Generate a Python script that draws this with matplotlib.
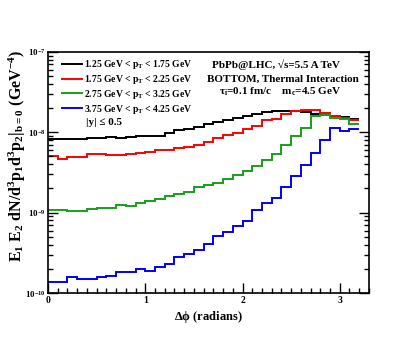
import numpy as np
import matplotlib
matplotlib.use("Agg")
import matplotlib.pyplot as plt
from matplotlib.ticker import LogLocator, MultipleLocator, NullFormatter, FixedLocator

plt.rcParams['font.family'] = ['Liberation Serif', 'DejaVu Serif']
plt.rcParams['font.weight'] = 'bold'
plt.rcParams['mathtext.fontset'] = 'custom'
plt.rcParams['mathtext.rm'] = 'Liberation Serif:bold'
plt.rcParams['mathtext.it'] = 'Liberation Serif:bold'
plt.rcParams['mathtext.bf'] = 'Liberation Serif:bold'
plt.rcParams['mathtext.default'] = 'rm'

# bin edges in delta phi (radians)
bin_edges = [round(0.1 * i, 1) for i in range(33)]

labels = [
    r"1.25 GeV < p$_{\rm T}$ < 1.75 GeV",
    r"1.75 GeV < p$_{\rm T}$ < 2.25 GeV",
    r"2.75 GeV < p$_{\rm T}$ < 3.25 GeV",
    r"3.75 GeV < p$_{\rm T}$ < 4.25 GeV",
]
colors = ["#000000", "#ff0000", "#18a018", "#0000ff"]

black = [8.29e-9, 8.29e-9, 8.29e-9, 8.34e-9, 8.49e-9, 8.49e-9, 8.66e-9, 8.41e-9,
         8.66e-9, 8.91e-9, 8.99e-9, 9.09e-9, 9.80e-9, 1.06e-8, 1.11e-8, 1.16e-8,
         1.25e-8, 1.35e-8, 1.41e-8, 1.51e-8, 1.60e-8, 1.71e-8, 1.79e-8, 1.85e-8,
         1.86e-8, 1.85e-8, 1.80e-8, 1.71e-8, 1.63e-8, 1.58e-8, 1.53e-8, 1.47e-8]
red = [5.08e-9, 4.69e-9, 4.91e-9, 4.91e-9, 5.42e-9, 5.42e-9, 5.16e-9, 5.26e-9,
       5.42e-9, 5.51e-9, 5.62e-9, 5.96e-9, 6.04e-9, 6.37e-9, 6.55e-9, 6.88e-9,
       7.56e-9, 8.49e-9, 9.17e-9, 9.91e-9, 1.11e-8, 1.21e-8, 1.41e-8, 1.48e-8,
       1.68e-8, 1.83e-8, 1.88e-8, 1.90e-8, 1.76e-8, 1.61e-8, 1.50e-8, 1.41e-8]
green = [1.07e-9, 1.07e-9, 1.06e-9, 1.04e-9, 1.11e-9, 1.13e-9, 1.15e-9, 1.25e-9,
         1.22e-9, 1.32e-9, 1.40e-9, 1.47e-9, 1.60e-9, 1.71e-9, 1.79e-9, 2.11e-9,
         2.19e-9, 2.35e-9, 2.61e-9, 2.96e-9, 3.28e-9, 3.79e-9, 4.56e-9, 5.42e-9,
         6.94e-9, 8.91e-9, 1.14e-8, 1.58e-8, 1.62e-8, 1.51e-8, 1.45e-8, 1.26e-8]
blue = [1.38e-10, 1.38e-10, 1.58e-10, 1.51e-10, 1.48e-10, 1.58e-10, 1.62e-10, 1.85e-10,
        1.81e-10, 1.98e-10, 1.90e-10, 2.14e-10, 2.28e-10, 2.82e-10, 3.10e-10, 3.45e-10,
        4.06e-10, 5.11e-10, 5.67e-10, 6.88e-10, 7.94e-10, 1.07e-9, 1.32e-9, 1.51e-9,
        2.11e-9, 2.82e-9, 3.87e-9, 5.51e-9, 8.11e-9, 1.12e-8, 1.04e-8, 1.10e-8]
series = [black, red, green, blue]

x_ticks = [0, 1, 2, 3]
y_ticks = [1e-10, 1e-9, 1e-8, 1e-7]
y_ticklabels = [r"10$^{-10}$", r"10$^{-9}$", r"10$^{-8}$", r"10$^{-7}$"]

fig = plt.figure(figsize=(4.15, 3.46), dpi=100)
ax = fig.add_axes([0.1157, 0.153, 0.7733, 0.697])

for vals, c, lab in zip(series, colors, labels):
    ax.stairs(vals, bin_edges, color=c, lw=1.4, label=lab, baseline=None)

ax.set_yscale('log')
ax.set_xlim(0, 3.3)
ax.set_ylim(1e-10, 1e-7)

ax.xaxis.set_major_locator(FixedLocator(x_ticks))
ax.xaxis.set_minor_locator(MultipleLocator(0.1))
ax.set_xticklabels([str(t) for t in x_ticks], fontsize=7, fontweight='bold')
ax.yaxis.set_major_locator(FixedLocator(y_ticks))
ax.set_yticklabels(y_ticklabels, fontsize=6.5)
ax.yaxis.set_minor_locator(LogLocator(base=10, subs=np.arange(2, 10)))
ax.yaxis.set_minor_formatter(NullFormatter())
ax.tick_params(which='both', direction='in', top=False, right=True, width=1.0, colors='black')
ax.tick_params(which='major', length=7, pad=2)
ax.tick_params(which='minor', length=3.5)
for sp in ax.spines.values():
    sp.set_linewidth(1.2)

ax.set_xlabel(r"$\Delta\phi$ (radians)", fontsize=9, fontweight='bold', labelpad=3)
ax.set_ylabel(r"E$_1$ E$_2$ dN/d$^3$p$_1$d$^3$p$_2$|$_{\rm b=0}$ (GeV$^{-4}$)",
              fontsize=11.5, fontweight='bold', loc='top')
ax.yaxis.set_label_coords(-0.062, 1.01)

leg = ax.legend(loc='upper left', bbox_to_anchor=(0.035, 0.985), frameon=False,
                prop={'family': 'Liberation Serif', 'weight': 'bold', 'size': 6.9},
                handlelength=2.1, handletextpad=0.2, labelspacing=0.18,
                borderaxespad=0.0, borderpad=0.3)

ax.text(0.118, 0.708, "|y| \u2264 0.5", transform=ax.transAxes, fontsize=8,
        fontweight='bold', ha='left', va='center')

ax.text(0.710, 0.946, "PbPb@LHC, \u221As=5.5 A TeV", transform=ax.transAxes,
        fontsize=8, fontweight='bold', ha='center', va='center')
ax.text(0.731, 0.888, "BOTTOM, Thermal Interaction", transform=ax.transAxes,
        fontsize=8, fontweight='bold', ha='center', va='center')
ax.text(0.725, 0.834, r"$\tau_{\rm i}$=0.1 fm/c    m$_{\rm c}$=4.5 GeV", transform=ax.transAxes,
        fontsize=8, fontweight='bold', ha='center', va='center')

fig.savefig("out.png", dpi=100)
